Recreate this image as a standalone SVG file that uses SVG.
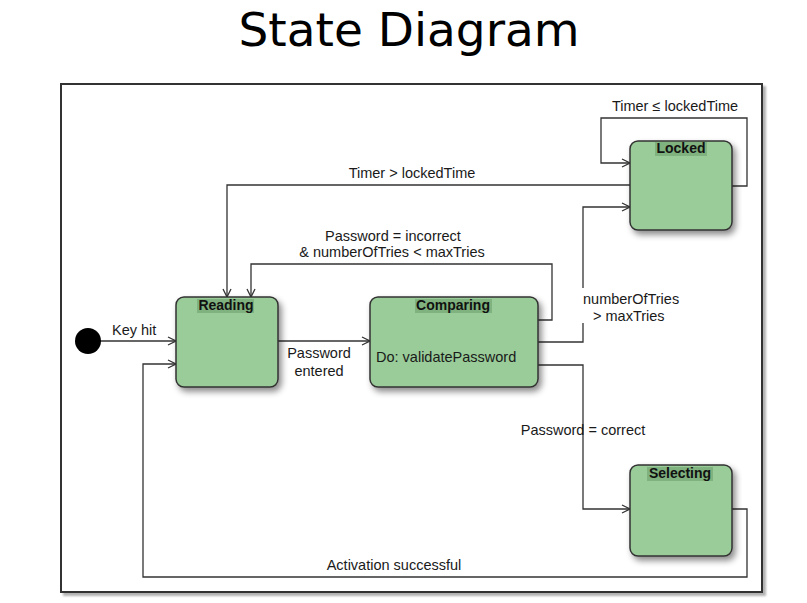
<svg xmlns="http://www.w3.org/2000/svg" width="807" height="603" viewBox="0 0 807 603">
  <defs>
    <style>
      .frame { fill: #ffffff; stroke: #333333; stroke-width: 2; }
      .state rect.box { fill: #99cc98; stroke: #333333; stroke-width: 1.5; }
      .state rect.hl { fill: #7fb27e; }
      .name { font-family: "Liberation Sans", Arial, sans-serif; font-size: 14px; font-weight: bold; fill: #111111; text-anchor: middle; }
      .lbl { font-family: "Liberation Sans", Arial, sans-serif; font-size: 14.5px; fill: #1a1a1a; }
      .mid { text-anchor: middle; }
      .conn path, .conn line { fill: none; stroke: #333333; stroke-width: 1.3; }
      .title { font-family: "DejaVu Sans", "Open Sans", sans-serif; font-size: 47px; fill: #000000; text-anchor: middle; }
    </style>
    <marker id="arr" viewBox="0 0 10 10" refX="9" refY="5" markerWidth="10" markerHeight="10" markerUnits="userSpaceOnUse" orient="auto">
      <path d="M1,1 L9,5 L1,9" fill="none" stroke="#333333" stroke-width="1.3"/>
    </marker>
    <filter id="sh" x="-20%" y="-20%" width="150%" height="150%">
      <feDropShadow dx="3" dy="4" stdDeviation="3" flood-color="#000000" flood-opacity="0.45"/>
    </filter>
    <filter id="fsh" x="-5%" y="-5%" width="110%" height="110%">
      <feDropShadow dx="3" dy="3" stdDeviation="1" flood-color="#000000" flood-opacity="0.3"/>
    </filter>
  </defs>

  <text class="title" x="409" y="46">State Diagram</text>

  <rect class="frame" x="61" y="84" width="701" height="508" filter="url(#fsh)"/>

  <g class="conn" id="connectors">
    <line x1="100" y1="341" x2="176" y2="341" marker-end="url(#arr)"/>
    <line x1="278" y1="341" x2="370" y2="341" marker-end="url(#arr)"/>
    <path d="M538,320 H552 V264 H251 V297" marker-end="url(#arr)"/>
    <path d="M630,185 H227 V297" marker-end="url(#arr)"/>
    <path d="M732,186 H747 V118 H601 V163 H630" marker-end="url(#arr)"/>
    <path d="M538,342 H583 V207 H630" marker-end="url(#arr)"/>
    <path d="M538,365 H583 V509 H630" marker-end="url(#arr)"/>
    <path d="M732,509 H747 V577 H143 V364 H176" marker-end="url(#arr)"/>
  </g>

  <g id="labels">
    <text class="lbl" x="112" y="335">Key hit</text>
    <text class="lbl mid" x="319" y="358">Password</text>
    <text class="lbl mid" x="319" y="376">entered</text>
    <text class="lbl mid" x="412" y="178">Timer &gt; lockedTime</text>
    <text class="lbl mid" x="393" y="241">Password = incorrect</text>
    <text class="lbl mid" x="392" y="257">&amp; numberOfTries &lt; maxTries</text>
    <text class="lbl mid" x="675" y="111">Timer ≤ lockedTime</text>
    <rect x="580" y="288" width="104" height="35" fill="#ffffff"/>
    <text class="lbl" x="583" y="304">numberOfTries</text>
    <text class="lbl" x="593" y="321">&gt; maxTries</text>
    <text class="lbl mid" x="583" y="435">Password = correct</text>
    <text class="lbl mid" x="394" y="570">Activation successful</text>
  </g>

  <circle id="initial" cx="88" cy="341" r="13" fill="#000000"/>

  <g class="state" id="reading">
    <rect class="box" x="176" y="297" width="102" height="90" rx="8" filter="url(#sh)"/>
    <rect class="hl" x="197" y="299" width="57" height="14"/>
    <text class="name" x="226" y="310">Reading</text>
  </g>

  <g class="state" id="comparing">
    <rect class="box" x="370" y="297" width="168" height="90" rx="8" filter="url(#sh)"/>
    <rect class="hl" x="415" y="299" width="77" height="14"/>
    <text class="name" x="453" y="310">Comparing</text>
    <text class="lbl" x="376" y="362">Do: validatePassword</text>
  </g>

  <g class="state" id="locked">
    <rect class="box" x="630" y="141" width="102" height="89" rx="8" filter="url(#sh)"/>
    <rect class="hl" x="655" y="142" width="52" height="14"/>
    <text class="name" x="681" y="153">Locked</text>
  </g>

  <g class="state" id="selecting">
    <rect class="box" x="630" y="465" width="102" height="91" rx="8" filter="url(#sh)"/>
    <rect class="hl" x="647" y="467" width="66" height="14"/>
    <text class="name" x="680" y="478">Selecting</text>
  </g>
</svg>
